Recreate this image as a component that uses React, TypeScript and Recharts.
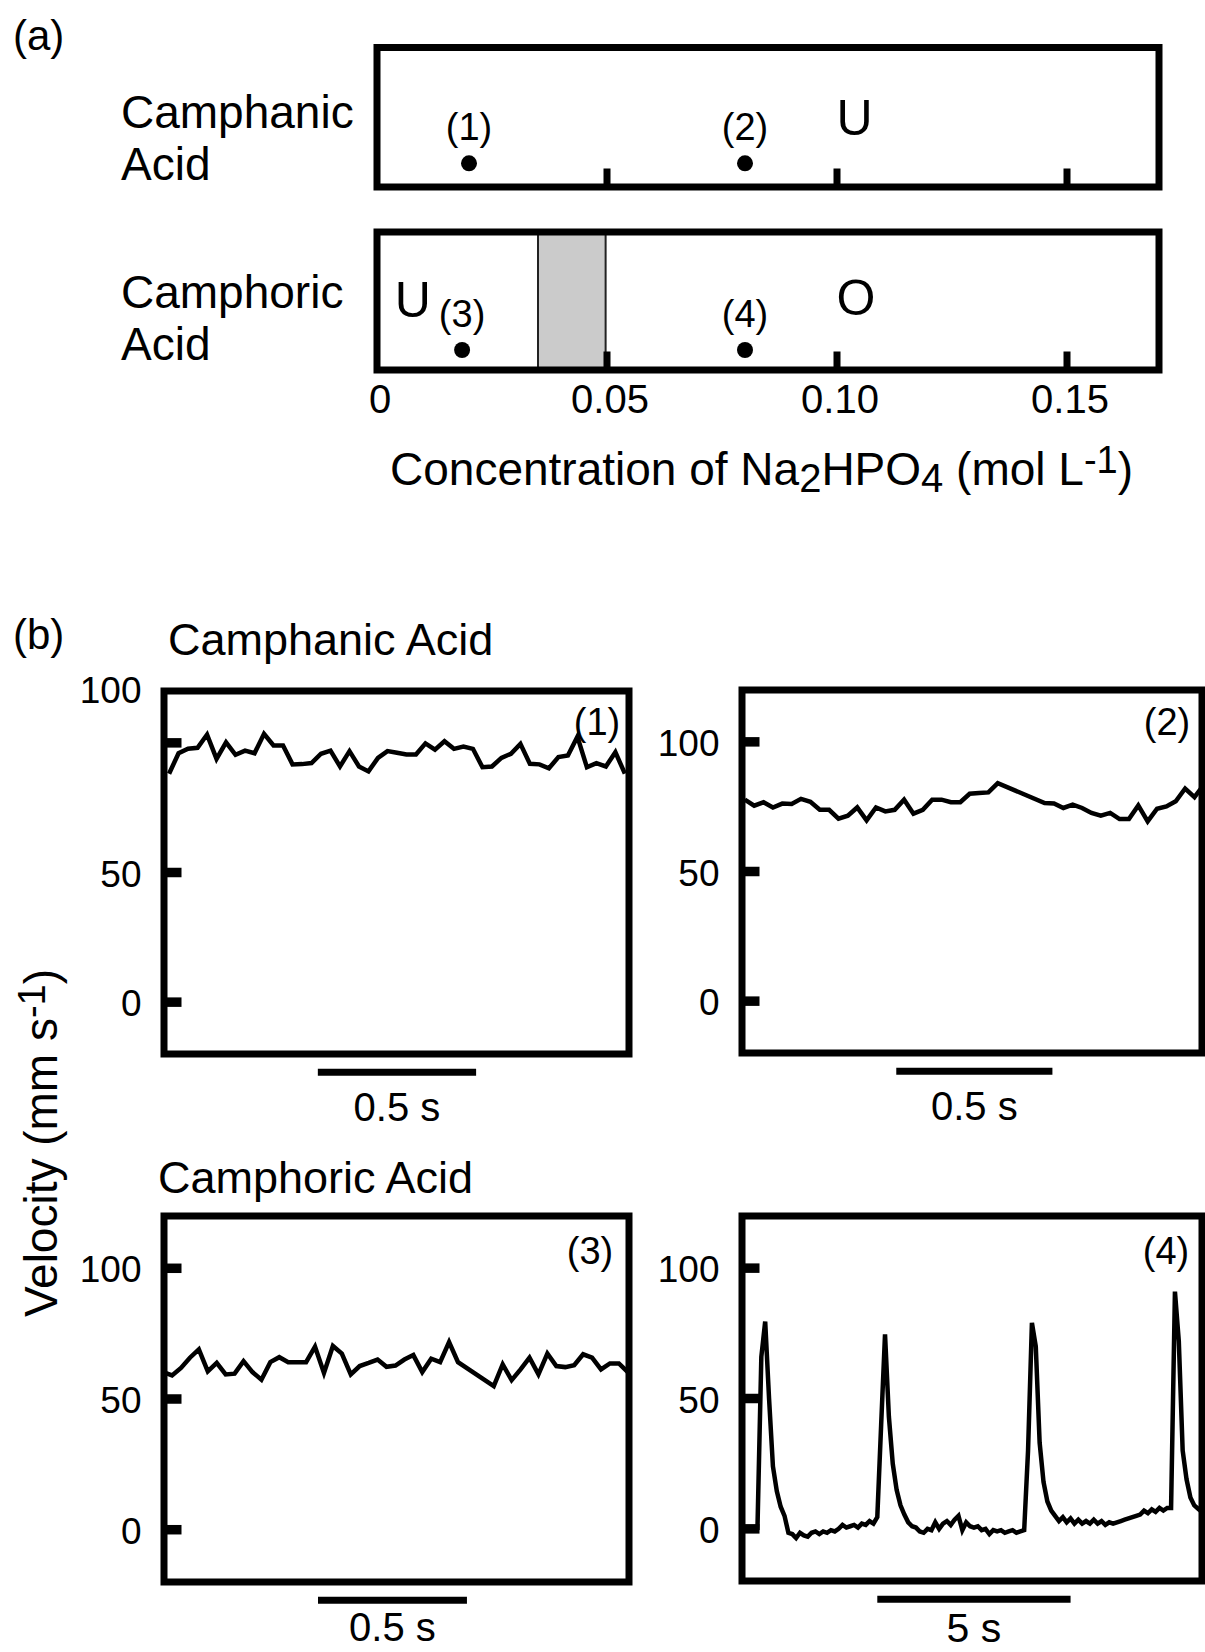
import React from 'react'
import {
  LineChart, Line, ScatterChart, Scatter, XAxis, YAxis,
  ReferenceArea, ReferenceLine, Label,
} from 'recharts'

const FONT = '"Liberation Sans", Arial, Helvetica, sans-serif'

// ---- (a) state of the drop vs Na2HPO4 concentration (mol L-1)
const concDomain: [number, number] = [0, 0.17]
const concTicks = [0, 0.05, 0.1, 0.15]
const concTickLabels = ['0', '0.05', '0.10', '0.15']
const camphanicConc = [0.02, 0.08]
const camphanicTags = ['(1)', '(2)']
const camphoricConc = [0.0185, 0.08]
const camphoricTags = ['(3)', '(4)']
const camphanicRegionConc = [0.1038]
const camphanicRegionTags = ['U']
const camphoricRegionConc = [0.0078, 0.1041]
const camphoricRegionTags = ['U', 'O']
const camphoricBand: [number, number] = [0.035, 0.0497]

// ---- (b) velocity traces, mm s-1
const velDomain: [number, number] = [-20, 120]
const velTicks = [0, 50, 100]
const FRAME = 0.03 // s between frames for (1)-(3)
const FRAME4 = 0.1 // s between samples for (4)

// (1) camphanic, low concentration
const vel1 = [
  88.1, 96.0, 97.7, 98.1, 103.2, 93.8, 100.2, 95.4, 97.0, 96.0,
  103.5, 99.0, 99.0, 91.7, 91.8, 92.2, 95.8, 97.0, 90.9, 96.8,
  90.9, 89.0, 94.2, 96.8, 96.2, 95.5, 95.5, 99.8, 97.4, 100.6,
  97.7, 98.6, 97.7, 90.6, 90.9, 94.2, 95.8, 99.6, 91.9, 91.7,
  90.2, 94.5, 95.1, 102.4, 90.6, 92.2, 90.9, 96.4, 88.1,
]
// (2) camphanic, 0.08 mol L-1 (null = dropped frames)
const vel2 = [
  77.7, 75.4, 76.7, 74.7, 76.2, 76.0, 78.0, 76.9, 73.8, 73.8,
  70.4, 71.5, 74.7, 69.7, 74.7, 73.2, 73.8, 77.7, 72.3, 73.8,
  77.7, 77.7, 76.7, 76.7, 80.0, 80.3, 80.5, 84.1, null, null,
  null, null, 76.4, 76.2, 74.5, 75.8, 74.5, 72.6, 71.5, 72.6,
  70.2, 70.2, 75.5, 69.3, 74.2, 75.1, 77.1, 82.0, 78.7, 83.5,
]
// (3) camphoric, low concentration
const vel3 = [
  60.3, 59.0, 61.9, 65.8, 69.0, 60.6, 63.8, 59.4, 59.7, 64.5,
  60.3, 57.4, 64.1, 66.0, 64.1, 64.1, 64.1, 70.0, 60.0, 70.3,
  67.4, 59.4, 62.6, 63.8, 65.1, 62.3, 62.8, 65.1, 66.8, 60.3,
  65.4, 64.1, 71.8, 64.1, null, null, null, 54.9, 63.2, 57.2,
  61.3, 65.8, 59.4, 67.4, 62.6, 62.2, 62.9, 67.1, 65.8, 61.3,
  63.6, 63.6, 60.3,
]
// (4) camphoric, 0.08 mol L-1 — oscillatory motion
const vel4 = [
  -0.5, -0.5, 0.5, -0.3, 0.2, 66, 79.5, 50, 24, 14.5,
  8.5, 5, -1.5, -2, -3.5, -1.5, -2.5, -3, -1.5, -1,
  -2, -1, -1.5, -0.5, -1, 0, 1.5, 0.5, 1, 1.5,
  0.5, 2, 1.5, 3, 2, 4.5, 40, 74.6, 43, 25,
  15, 9, 5.5, 2.5, 1, 0.5, -1, -1.5, 0, -0.5,
  2.5, 0, 2, 3, 1.5, 3.5, 5, -0.5, 2.5, 1,
  0.5, 1, -0.5, 0, -2, -0.5, -1, -0.5, -1.5, -1,
  -0.5, -1.5, -1, -0.5, 30, 79, 70, 33, 18, 10.5,
  7, 5, 3, 4.5, 2.5, 4, 2, 3.5, 2, 3,
  2, 3.5, 2, 3, 1.5, 2.5, 2, 2.5, 3, 3.5,
  4, 4.5, 5, 5.5, 7, 6, 7.5, 6.5, 8, 7,
  8, 8, 91, 72, 30, 19, 12, 9, 7.7, 6.5,
]

const BAR_Y = -27

const ConcTick = (p: any) => {
  const { x, y, payload, index, showLabel } = p
  return (
    <g>
      {payload.value > 0 && <rect x={x - 3.5} y={y - 18.5} width={7} height={18.5} fill="#000" />}
      {showLabel && (
        <text x={x + 3} y={y + 43} textAnchor="middle" fontSize={40} fontFamily={FONT} fill="#000">
          {concTickLabels[index]}
        </text>
      )}
    </g>
  )
}

const StateDot = (p: any) => (
  <g>
    <circle cx={p.cx} cy={p.cy} r={8} fill="#000" />
    <text x={p.cx} y={p.cy - 23} textAnchor="middle" fontSize={38} fontFamily={FONT} fill="#000">
      {p.payload.tag}
    </text>
  </g>
)

const RegionLetter = (p: any) => (
  <text x={p.cx} y={p.cy} textAnchor="middle" fontSize={50} fontFamily={FONT} fill="#000">
    {p.payload.tag}
  </text>
)

function StateBox({ top, height, mTop, mBottom, conc, tags, regionConc, regionTags, dotLevel, regionLevels, band, showLabels }: any) {
  const dots = conc.map((c: number, i: number) => ({ c, level: dotLevel, tag: tags[i] }))
  const letters = regionConc.map((c: number, i: number) => ({ c, level: regionLevels[i], tag: regionTags[i] }))
  return (
    <div style={{ position: 'absolute', left: 0, top }}>
      <ScatterChart width={1205} height={height} margin={{ top: mTop, right: 46, bottom: mBottom, left: 377 }}>
        <XAxis
          dataKey="c" type="number" domain={concDomain} ticks={concTicks} interval={0} allowDataOverflow
          axisLine={false} tickLine={false} tickSize={0} tickMargin={0} height={20}
          tick={(t: any) => <ConcTick {...t} showLabel={showLabels} />}
        />
        <YAxis dataKey="level" type="number" domain={[0, 1]} hide />
        {band && (
          <ReferenceArea x1={band[0]} x2={band[1]} y1={0} y2={1} fill="#cbcbcb" fillOpacity={1} stroke="#222" strokeWidth={2} />
        )}
        <ReferenceArea x1={concDomain[0]} x2={concDomain[1]} y1={0} y2={1} fill="none" stroke="#000" strokeWidth={7} />
        <Scatter data={dots} shape={StateDot} isAnimationActive={false} />
        <Scatter data={letters} shape={RegionLetter} isAnimationActive={false} />
      </ScatterChart>
    </div>
  )
}

const VelTick = (p: any) => {
  const { x, y, payload, lift } = p
  const ly = payload.value === 100 ? y - lift : y
  return (
    <g>
      <rect x={x} y={y - 4.75} width={17.5} height={9.5} fill="#000" />
      <text x={x - 22.5} y={ly + 14} textAnchor="end" fontSize={37} fontFamily={FONT} fill="#000">
        {payload.value}
      </text>
    </g>
  )
}

function VelocityChart({ values, step, domain, bar, barText, barFont = 40, barOffset = 20, left, top, width, height, margin, axisWidth, lift = 0 }: any) {
  const data = values.map((v: number | null, i: number) => ({ t: i * step, v }))
  return (
    <div style={{ position: 'absolute', left, top }}>
      <LineChart width={width} height={height} data={data} margin={margin}>
        <XAxis dataKey="t" type="number" domain={domain} allowDataOverflow hide />
        <YAxis
          type="number" domain={velDomain} ticks={velTicks} interval={0} allowDataOverflow width={axisWidth}
          axisLine={false} tickLine={false} tickSize={0} tickMargin={0}
          tick={(t: any) => <VelTick {...t} lift={lift} />}
        />
        <Line type="linear" dataKey="v" stroke="#000" strokeWidth={4.5} dot={false} connectNulls isAnimationActive={false} />
        <ReferenceArea x1={domain[0]} x2={domain[1]} y1={velDomain[0]} y2={velDomain[1]} fill="none" stroke="#000" strokeWidth={7} />
        <ReferenceLine
          segment={[{ x: bar[0], y: BAR_Y }, { x: bar[1], y: BAR_Y }]}
          stroke="#000" strokeWidth={7} ifOverflow="visible"
        >
          <Label value={barText} position="bottom" offset={barOffset} fontSize={barFont} fontFamily={FONT} fill="#000" />
        </ReferenceLine>
      </LineChart>
    </div>
  )
}

export default function App() {
  return (
    <div style={{ position: 'absolute', left: 0, top: 0, width: 1205, height: 1652, overflow: 'hidden', background: '#fff', fontFamily: FONT }}>
      <StateBox
        top={0} height={210} mTop={47.5} mBottom={3}
        conc={camphanicConc} tags={camphanicTags} dotLevel={0.17}
        regionConc={camphanicRegionConc} regionTags={camphanicRegionTags} regionLevels={[0.373]}
        showLabels={false}
      />
      <StateBox
        top={200} height={300} mTop={32} mBottom={110}
        conc={camphoricConc} tags={camphoricTags} dotLevel={0.145}
        regionConc={camphoricRegionConc} regionTags={camphoricRegionTags} regionLevels={[0.384, 0.399]}
        band={camphoricBand} showLabels
      />

      <VelocityChart
        values={vel1} step={FRAME} domain={[-0.016, 1.453]} bar={[0.47, 0.97]} barText="0.5 s"
        left={0} top={640} width={660} height={500} margin={{ top: 51, right: 31, bottom: 86, left: 0 }} axisWidth={164} lift={54}
      />
      <VelocityChart
        values={vel2} step={FRAME} domain={[-0.009, 1.464]} bar={[0.485, 0.985]} barText="0.5 s"
        left={630} top={640} width={575} height={500} margin={{ top: 50, right: 3, bottom: 87, left: 0 }} axisWidth={112}
      />
      <VelocityChart
        values={vel3} step={FRAME} domain={[0.003, 1.564]} bar={[0.52, 1.02]} barText="0.5 s" barOffset={12}
        left={0} top={1150} width={660} height={502} margin={{ top: 66, right: 31, bottom: 70, left: 0 }} axisWidth={164}
      />
      <VelocityChart
        values={vel4} step={FRAME4} domain={[0, 11.9]} bar={[3.5, 8.5]} barText="5 s" barFont={41} barOffset={14}
        left={630} top={1150} width={575} height={502} margin={{ top: 66, right: 3, bottom: 71, left: 0 }} axisWidth={112}
      />

      <svg width={1205} height={1652} style={{ position: 'absolute', left: 0, top: 0, pointerEvents: 'none' }} fontFamily={FONT} fill="#000">
        <text x={13} y={50} fontSize={42}>(a)</text>
        <text x={121} y={128} fontSize={46}>Camphanic</text>
        <text x={121} y={180} fontSize={46}>Acid</text>
        <text x={121} y={308} fontSize={46}>Camphoric</text>
        <text x={121} y={360} fontSize={46}>Acid</text>
        <text x={390} y={485} fontSize={46}>
          Concentration of Na<tspan fontSize={40} dy={7}>2</tspan>
          <tspan dy={-7}>HPO</tspan>
          <tspan fontSize={40} dy={7}>4</tspan>
          <tspan dy={-7}>{' (mol L'}</tspan>
          <tspan fontSize={38} dy={-12}>-1</tspan>
          <tspan dy={12}>)</tspan>
        </text>

        <text x={13} y={649} fontSize={42}>(b)</text>
        <text x={168} y={655} fontSize={45}>Camphanic Acid</text>
        <text x={158} y={1193} fontSize={45}>Camphoric Acid</text>
        <text transform="translate(57,1143) rotate(-90)" textAnchor="middle" fontSize={46}>
          Velocity (mm s<tspan fontSize={38} dy={-12}>-1</tspan>
          <tspan dy={12}>)</tspan>
        </text>
        <text x={597} y={735} fontSize={38} textAnchor="middle">(1)</text>
        <text x={1167} y={735} fontSize={38} textAnchor="middle">(2)</text>
        <text x={590} y={1264} fontSize={38} textAnchor="middle">(3)</text>
        <text x={1166} y={1264} fontSize={38} textAnchor="middle">(4)</text>
      </svg>
    </div>
  )
}
